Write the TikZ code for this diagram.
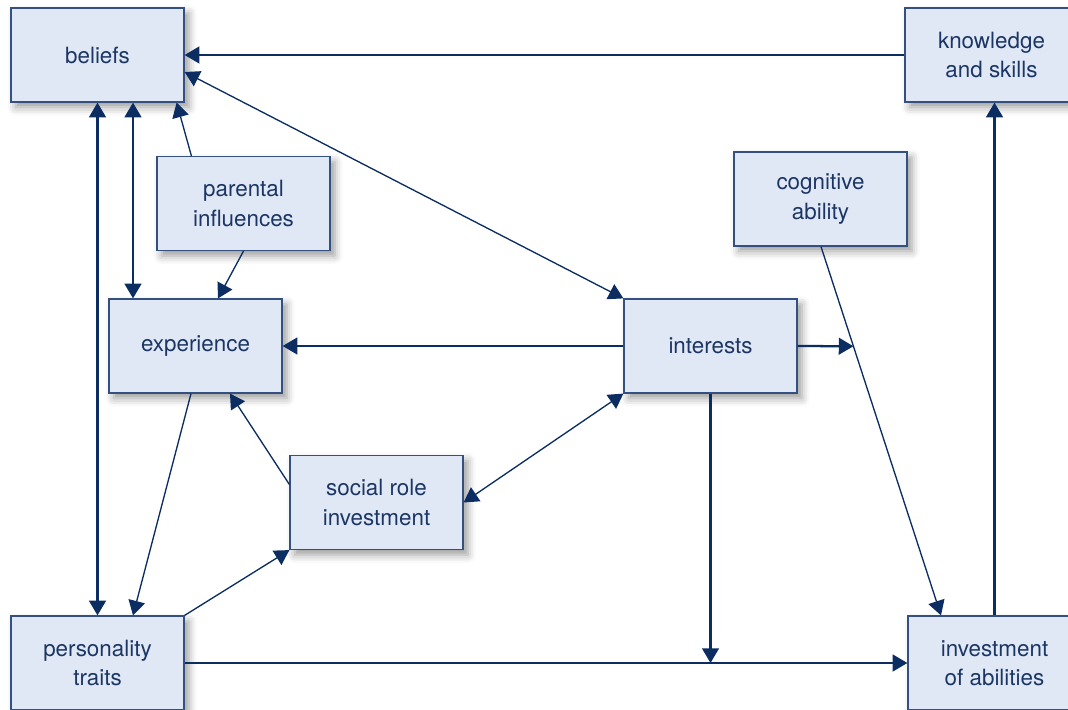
\documentclass[tikz,border=0pt]{standalone}
\usepackage{fontspec}
\setmainfont{TeX Gyre Heros}
\usetikzlibrary{arrows.meta,calc,shadows.blur}
\definecolor{boxfill}{HTML}{E1E8F5}
\definecolor{boxline}{HTML}{34507F}
\definecolor{arr}{HTML}{0B2D62}
\definecolor{txt}{HTML}{1B3665}
\tikzset{
  box/.style={draw=boxline, line width=0.9pt, fill=boxfill, minimum width=129.75pt, minimum height=70.5pt,
    align=center, text=txt, font=\fontsize{16.8}{21.8}\selectfont, inner sep=0pt,
    blur shadow={shadow xshift=3.5pt, shadow yshift=-4pt, shadow blur radius=6pt, shadow opacity=40}},
  tip/.style={-{Triangle[length=11pt,width=12.5pt]}},
  tips/.style={{Triangle[length=11pt,width=12.5pt]}-{Triangle[length=11pt,width=12.5pt]}},
  thk/.style={draw=arr, line width=1.7pt},
  thn/.style={draw=arr, line width=1pt},
}
\begin{document}
\begin{tikzpicture}[x=0.75pt,y=-0.75pt]
\useasboundingbox (0,0) rectangle (1068,710);
\begin{scope}
\clip (0,0) rectangle (1068,710);
\node[box] (beliefs) at (97.5,55) {beliefs};
\node[box] (knowledge) at (991.5,55) {knowledge\\and skills};
\node[box] (parental) at (243.5,203.5) {parental\\influences};
\node[box] (cognitive) at (820.5,199) {cognitive\\ability};
\node[box] (experience) at (195.5,346) {experience};
\node[box] (interests) at (710.5,346) {interests};
\node[box] (social) at (376.5,502.5) {social role\\investment};
\node[box] (personality) at (97.5,663) {personality\\traits};
\node[box] (investment) at (994.5,663) {investment\\of abilities};
\end{scope}

\coordinate (c1) at ($(cognitive.south)+(0.5,0)$);
\coordinate (i1) at ($(investment.north)+(-53.5,0)$);
\coordinate (p) at ($(c1)!0.2703!(i1)$);
\coordinate (q) at (interests.south |- personality.east);

\draw[thk,tip] (knowledge.west) -- (beliefs.east);
\draw[thn,tips] ($(beliefs.east)+(0,17)$) -- (interests.north west);
\draw[thk,tips] (beliefs.south) -- (personality.north);
\draw[thk,tips] ($(beliefs.south)+(35.5,0)$) -- ($(experience.north)+(-62.5,0)$);
\draw[thn,tip] ($(parental.north west)+(35,0)$) -- ($(beliefs.south east)+(-8,0)$);
\draw[thn,tip] (parental.south) -- ($(experience.north)+(22.5,0)$);
\draw[thk,tip] (interests.west) -- (experience.east);
\draw[thk,tip] (interests.east) -- (p);
\draw[thn,tip] (c1) -- (i1);
\draw[thk,tip] (interests.south) -- (q);
\draw[thk,tip] (personality.east) -- (investment.west);
\draw[thk,tip] (investment.north) -- (investment.north |- knowledge.south);
\draw[thn,tips] (interests.south west) -- (social.east);
\draw[thn,tip] ($(social.west)+(0,-18)$) -- ($(experience.south)+(34.5,0)$);
\draw[thn,tip] ($(experience.south)+(-4.5,0)$) -- ($(personality.north)+(35.5,0)$);
\draw[thn,tip] (personality.north east) -- (social.south west);
\end{tikzpicture}
\end{document}
